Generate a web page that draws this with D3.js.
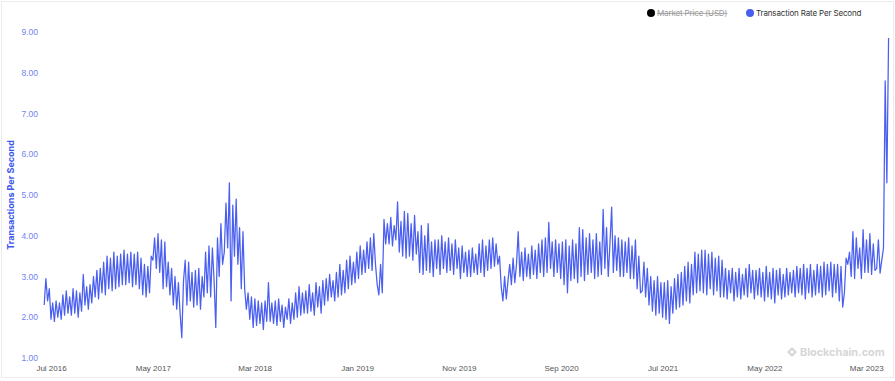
<!DOCTYPE html>
<html>
<head>
<meta charset="utf-8">
<script src="https://cdn.jsdelivr.net/npm/d3@7"></script>
<style>
  body { margin: 0; background: #fff; }
  svg { display: block; font-family: Inter, "Noto Sans", sans-serif; }
</style>
</head>
<body>
<div class="graph"></div>
<script>
// data, one value every 1/72 of a year starting 10 Jun 2016
var startDate = new Date(2016, 5, 10, 16)
var stepDays = 365.25 / 72
var rates = [
  2.3, 2.95, 2.4, 2.7,
  1.95, 2.35, 1.9, 2.4, 2.0, 2.35,     // Jul 2016
  1.95, 2.55, 2.05, 2.65, 2.1, 2.5,
  2.05, 2.7, 2.1, 2.65, 2.0, 2.6,
  2.15, 3.05, 2.3, 2.75, 2.2, 2.8,
  2.35, 3.0, 2.5, 3.15, 2.45, 3.2,
  2.6, 3.35, 2.55, 3.5, 2.7, 3.45,
  2.65, 3.6, 2.7, 3.5, 2.75, 3.55,     // Jan 2017
  2.8, 3.65, 2.8, 3.55, 2.85, 3.6,
  2.75, 3.55, 2.8, 3.6, 2.7, 3.45,
  2.55, 3.3, 2.5, 3.25, 2.6, 3.5,
  3.4, 3.95, 3.2, 4.05, 3.1, 3.9,
  2.7, 3.85, 2.75, 3.35, 2.55, 3.2,
  2.3, 3.0, 2.2, 2.85, 2.1, 1.5,       // Jul 2017
  2.9, 3.4, 2.3, 3.35, 2.4, 3.1,
  2.25, 3.15, 2.3, 3.2, 2.2, 3.0,
  2.5, 3.6, 2.6, 3.75, 2.5, 3.7,
  2.9, 1.75, 3.95, 3.0, 4.3, 3.3,
  3.6, 4.8, 3.7, 5.3, 2.4, 4.75,
  3.5, 4.9, 3.3, 4.2, 2.7, 4.1,        // Jan 2018
  2.7, 2.2, 2.6, 1.95, 2.5, 1.75,
  2.45, 1.8, 2.4, 1.85, 2.35, 1.7,
  2.4, 1.9, 2.85, 1.9, 2.35, 1.85,
  2.4, 1.8, 2.45, 1.9, 2.3, 1.75,
  2.25, 1.95, 2.45, 1.85, 2.35, 1.95,
  2.6, 2.0, 2.75, 2.05, 2.6, 2.1,      // Jul 2018
  2.65, 2.1, 2.8, 2.15, 2.6, 2.05,
  2.85, 2.25, 2.75, 2.1, 2.9, 2.3,
  2.95, 2.4, 3.05, 2.5, 2.9, 2.4,
  3.1, 2.5, 3.3, 2.55, 3.15, 2.6,
  3.4, 2.7, 3.5, 2.8, 3.35, 2.85,
  3.6, 2.95, 3.75, 3.05, 3.65, 3.1,    // Jan 2019
  3.85, 3.2, 3.95, 3.15, 4.05, 3.3,
  2.8, 2.55, 3.3, 2.6, 4.4, 3.8,
  4.3, 3.8, 4.45, 3.75, 4.25, 3.9,
  4.83, 3.6, 4.35, 3.5, 4.6, 3.45,
  4.55, 3.5, 4.3, 3.4, 4.5, 3.55,
  4.1, 3.1, 4.25, 3.05, 4.0, 3.15,     // Jul 2019
  4.3, 3.1, 3.85, 3.0, 3.9, 3.2,
  3.9, 3.05, 4.0, 3.2, 3.85, 3.1,
  3.95, 3.15, 3.8, 3.05, 3.9, 3.2,
  3.7, 2.95, 3.75, 3.1, 3.6, 3.0,
  3.65, 3.0, 3.7, 3.1, 3.55, 3.05,
  3.8, 3.1, 3.9, 3.0, 3.75, 3.15,      // Jan 2020
  3.9, 3.2, 3.95, 3.25, 3.8, 3.3,
  3.5, 2.75, 2.4, 3.0, 2.45, 2.9,
  3.3, 2.8, 3.45, 2.85, 3.3, 4.1,
  3.0, 3.6, 2.9, 3.7, 3.0, 3.55,
  2.95, 3.75, 3.05, 3.65, 2.95, 3.8,
  3.1, 3.9, 3.0, 3.95, 3.1, 4.33,      // Jul 2020
  3.2, 3.85, 3.0, 3.9, 3.1, 3.8,
  2.95, 3.85, 2.8, 3.9, 2.6, 3.75,
  2.9, 3.9, 2.95, 3.8, 2.85, 4.2,
  3.0, 4.15, 2.9, 3.95, 3.05, 4.05,
  3.1, 3.9, 2.95, 4.05, 3.0, 3.85,
  3.05, 4.65, 3.2, 4.2, 3.0, 3.8,      // Jan 2021
  4.7, 3.1, 4.0, 3.15, 3.95, 3.0,
  3.9, 3.0, 3.85, 3.1, 3.95, 2.95,
  3.75, 2.95, 3.9, 2.7, 3.5, 2.6,
  2.65, 3.35, 2.5, 3.2, 2.3, 3.0,
  2.15, 2.9, 2.05, 3.0, 2.1, 2.85,
  2.0, 2.85, 1.95, 2.9, 1.85, 2.75,    // Jul 2021
  2.1, 2.95, 2.2, 3.05, 2.25, 3.1,
  2.3, 3.25, 2.4, 3.35, 2.35, 3.3,
  2.55, 3.6, 2.6, 3.55, 2.65, 3.65,
  2.6, 3.65, 2.55, 3.55, 2.7, 3.6,
  2.55, 3.45, 2.65, 3.5, 2.5, 3.4,
  2.5, 3.2, 2.45, 3.15, 2.6, 3.2,      // Jan 2022
  2.4, 3.1, 2.5, 3.2, 2.45, 3.05,
  2.55, 3.2, 2.5, 3.3, 2.6, 3.15,
  2.45, 3.15, 2.55, 3.2, 2.5, 3.1,
  2.4, 3.25, 2.5, 3.1, 2.45, 3.2,
  2.35, 3.15, 2.55, 3.2, 2.45, 3.05,
  2.5, 3.2, 2.55, 3.1, 2.6, 3.15,      // Jul 2022
  2.5, 3.25, 2.6, 3.2, 2.55, 3.3,
  2.45, 3.2, 2.6, 3.3, 2.5, 3.15,
  2.55, 3.3, 2.6, 3.25, 2.5, 3.35,
  2.55, 3.3, 2.65, 3.35, 2.5, 3.3,
  2.6, 3.3, 2.4, 3.25, 2.25, 2.6,
  3.45, 3.3, 3.6, 3.0, 4.1, 2.95,      // Jan 2023
  3.95, 3.2, 3.7, 2.95, 4.15, 3.1,
  3.9, 3.1, 4.05, 3.05, 3.8, 3.15,
  3.2, 3.9, 3.08, 3.4, 3.7, 7.8,
  5.3, 8.85
]
var xTickLabels = ['Jul 2016', 'May 2017', 'Mar 2018', 'Jan 2019', 'Nov 2019', 'Sep 2020', 'Jul 2021', 'May 2022', 'Mar 2023']
var yTickValues = [1, 2, 3, 4, 5, 6, 7, 8, 9]
var legendNames = ['Market Price (USD)', 'Transaction Rate Per Second']

var width = 895, height = 381
var blue = '#4a5ff0'

var svg = d3.select('.graph')
    .append('svg')
    .attr('width', width)
    .attr('height', height)

// card outline
svg.append('rect')
    .attr('x', 1.5).attr('y', 1.5)
    .attr('width', width - 3).attr('height', 376)
    .attr('fill', 'none')
    .attr('stroke', '#ececec')

var parseTick = d3.timeParse('%b %Y')
var x = d3.scaleTime()
    .domain([new Date(2016, 6, 1), new Date(2023, 4, 1)])
    .range([51, 886.6])
var y = d3.scaleLinear()
    .domain([1, 9])
    .range([358, 32])

var data = rates.map(function(v, i) {
    return { date: new Date(+startDate + i * stepDays * 864e5), value: v }
})

// y axis
var yAxis = svg.append('g')
    .attr('transform', 'translate(38,0)')
    .call(d3.axisLeft(y).tickValues(yTickValues).tickFormat(d3.format('.2f')).tickSize(0).tickPadding(0))
yAxis.select('.domain').remove()
yAxis.selectAll('text')
    .attr('fill', '#7083f0')
    .style('font-size', '8.5px')

// x axis
var xAxis = svg.append('g')
    .attr('transform', 'translate(0,365)')
    .call(d3.axisBottom(x).tickValues(xTickLabels.map(parseTick)).tickFormat(d3.timeFormat('%b %Y')).tickSize(0).tickPadding(0))
xAxis.select('.domain').remove()
xAxis.selectAll('text')
    .attr('fill', '#555')
    .style('font-size', '8px')

svg.append('text')
    .attr('transform', 'translate(14,195) rotate(-90)')
    .attr('text-anchor', 'middle')
    .attr('fill', '#3d56ee')
    .style('font-size', '9px')
    .style('font-weight', 'bold')
    .text('Transactions Per Second')

// the series
var line = d3.line()
    .x(function(d) { return x(d.date) })
    .y(function(d) { return y(d.value) })
svg.append('path')
    .datum(data)
    .attr('fill', 'none')
    .attr('stroke', blue)
    .attr('stroke-width', 1.25)
    .attr('stroke-linejoin', 'round')
    .attr('d', line)

// legend
var legend = svg.append('g')
var lx = [651, 750]
legendNames.forEach(function(name, i) {
    legend.append('circle')
        .attr('cx', lx[i]).attr('cy', 13).attr('r', 4)
        .attr('fill', i == 0 ? '#000' : blue)
    legend.append('text')
        .attr('x', lx[i] + 6).attr('y', 16)
        .attr('fill', i == 0 ? '#999' : '#333')
        .style('font-size', '8px')
        .style('letter-spacing', '-0.15px')
        .style('text-decoration', i == 0 ? 'line-through' : 'none')
        .text(name)
})

// watermark
var wm = svg.append('g').attr('fill', '#d6d6d6')
wm.append('path')
    .attr('d', 'M792,347 l5,5 l-5,5 l-5,-5 Z M792,350 l2,2 l-2,2 l-2,-2 Z')
    .attr('fill-rule', 'evenodd')
wm.append('text')
    .attr('x', 800).attr('y', 356)
    .style('font-size', '10.8px')
    .style('font-weight', 'bold')
    .text('Blockchain.com')
</script>
</body>
</html>
